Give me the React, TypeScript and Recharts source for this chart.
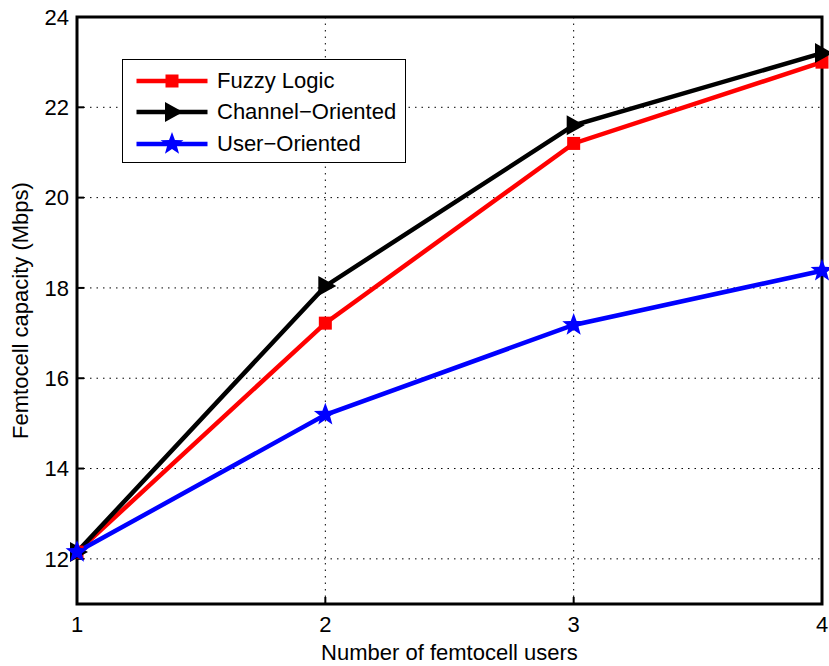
import React from "react";
import {
  LineChart,
  Line,
  XAxis,
  YAxis,
  CartesianGrid,
  ReferenceArea,
  Legend,
} from "recharts";

const users = [1, 2, 3, 4];
const fuzzyLogic = [12.15, 17.22, 21.2, 23.0];
const channelOriented = [12.15, 18.04, 21.6, 23.2];
const userOriented = [12.15, 15.19, 17.18, 18.38];
const yTicks = [12, 14, 16, 18, 20, 22, 24];

const data = users.map((u, i) => ({
  users: u,
  fuzzy: fuzzyLogic[i],
  channel: channelOriented[i],
  user: userOriented[i],
}));

const FONT = "'Liberation Sans', Arial, Helvetica, sans-serif";
const FS = 22;

const Square = (props: any) => {
  const { cx, cy } = props;
  return <rect x={cx - 6.5} y={cy - 6.5} width={13} height={13} fill="#ff0000" />;
};

const Triangle = (props: any) => {
  const { cx, cy } = props;
  return (
    <polygon
      points={`${cx - 7},${cy - 10} ${cx + 11},${cy} ${cx - 7},${cy + 10}`}
      fill="#000"
    />
  );
};

function starPoints(cx: number, cy: number, R: number, r: number) {
  const pts: string[] = [];
  for (let k = 0; k < 10; k++) {
    const rad = k % 2 === 0 ? R : r;
    const a = -Math.PI / 2 + (k * Math.PI) / 5;
    pts.push(`${cx + rad * Math.cos(a)},${cy + rad * Math.sin(a)}`);
  }
  return pts.join(" ");
}

const Star = (props: any) => {
  const { cx, cy } = props;
  return <polygon points={starPoints(cx, cy, 12, 5)} fill="#0000ff" />;
};

const legendItems = [
  { label: "Fuzzy Logic", color: "#ff0000", mark: "square" },
  { label: "Channel\u2212Oriented", color: "#000", mark: "triangle" },
  { label: "User\u2212Oriented", color: "#0000ff", mark: "star" },
];

const LegendBox = () => (
  <div
    style={{
      width: 284,
      height: 104,
      border: "1.5px solid #000",
      background: "#fff",
      boxSizing: "border-box",
      fontFamily: FONT,
      fontSize: FS,
      paddingTop: 5,
    }}
  >
    {legendItems.map((it) => (
      <div
        key={it.label}
        style={{ display: "flex", alignItems: "center", height: 31.5 }}
      >
        <svg width={94} height={26} style={{ flex: "none" }}>
          <line x1={13.5} y1={13} x2={84.5} y2={13} stroke={it.color} strokeWidth={4.5} />
          {it.mark === "square" && <Square cx={49} cy={13} />}
          {it.mark === "triangle" && <Triangle cx={49} cy={13} />}
          {it.mark === "star" && <Star cx={49} cy={13} />}
        </svg>
        <span style={{ color: "#000", whiteSpace: "nowrap" }}>{it.label}</span>
      </div>
    ))}
  </div>
);

export default function App() {
  return (
    <div style={{ position: "absolute", left: 0, top: 0, background: "#fff" }}>
      <LineChart
        width={829}
        height={666}
        data={data}
        margin={{ top: 17, right: 7, bottom: 0, left: 0 }}
      >
        <CartesianGrid
          stroke="#000"
          strokeDasharray="1.5 5"
          strokeWidth={1}
          verticalValues={[2, 3]}
          horizontalValues={[12, 14, 16, 18, 20, 22]}
        />
        <XAxis
          dataKey="users"
          type="number"
          domain={[1, 4]}
          ticks={users}
          axisLine={false}
          tickLine={{ stroke: "#000", strokeWidth: 2 }}
          tickSize={-7}
          tickMargin={19}
          tick={{ fill: "#000", fontSize: FS, fontFamily: FONT }}
          label={{
            value: "Number of femtocell users",
            position: "insideBottom",
            offset: 6,
            fill: "#000",
            fontSize: FS,
            fontFamily: FONT,
          }}
          height={62}
        />
        <YAxis
          type="number"
          domain={[11, 24]}
          ticks={yTicks}
          axisLine={false}
          tickLine={{ stroke: "#000", strokeWidth: 2 }}
          tickSize={-7}
          tickMargin={15}
          tick={{ fill: "#000", fontSize: FS, fontFamily: FONT }}
          width={77}
          label={{
            value: "Femtocell capacity (Mbps)",
            angle: -90,
            position: "insideLeft",
            offset: 20,
            style: { textAnchor: "middle" },
            fill: "#000",
            fontSize: FS,
            fontFamily: FONT,
          }}
        />
        <ReferenceArea
          x1={1}
          x2={4}
          y1={11}
          y2={24}
          fill="none"
          stroke="#000"
          strokeWidth={3}
          ifOverflow="visible"
        />
        <Line
          dataKey="fuzzy"
          stroke="#ff0000"
          strokeWidth={4.5}
          dot={<Square />}
          isAnimationActive={false}
        />
        <Line
          dataKey="channel"
          stroke="#000"
          strokeWidth={4.5}
          dot={<Triangle />}
          isAnimationActive={false}
        />
        <Line
          dataKey="user"
          stroke="#0000ff"
          strokeWidth={4.5}
          dot={<Star />}
          isAnimationActive={false}
        />
        <Legend
          verticalAlign="middle"
          align="center"
          content={() => <LegendBox />}
          wrapperStyle={{ position: "absolute", left: 122, top: 59, width: 284 }}
        />
      </LineChart>
    </div>
  );
}
